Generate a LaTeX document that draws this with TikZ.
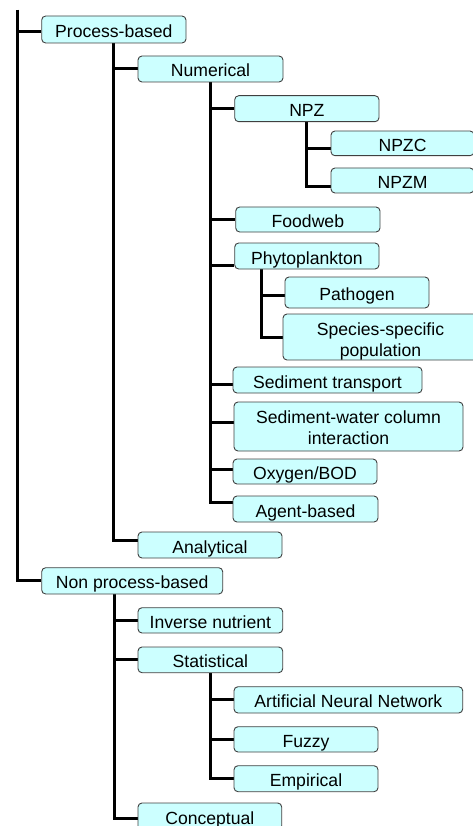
\documentclass[tikz,border=0pt]{standalone}
\usepackage{fontspec}
\setmainfont{Liberation Sans}
\usetikzlibrary{backgrounds}
\definecolor{boxfill}{HTML}{CCFFFF}
\definecolor{boxline}{HTML}{404040}
\tikzset{
  box/.style={draw=boxline, fill=boxfill, rounded corners=4pt, line width=0.9pt,
    inner sep=0pt, font=\fontsize{17.6}{21}\selectfont, text height=16pt, text depth=0pt},
  twoline/.style={align=center},
  conn/.style={line width=3pt, draw=black}
}
\begin{document}
\begin{tikzpicture}[x=1pt,y=-1pt]
\useasboundingbox (0,0) rectangle (473,826);
\node[box, minimum width=144.3pt, minimum height=27pt] (proc) at (113.85,29.5) {Process-based};
\node[box, minimum width=145pt, minimum height=26pt] (num) at (210.5,69) {Numerical};
\node[box, minimum width=144.3pt, minimum height=26pt] (npz) at (306.85,108.7) {NPZ};
\node[box, minimum width=143pt, minimum height=24.7pt] (npzc) at (402.5,143.35) {NPZC};
\node[box, minimum width=143pt, minimum height=25pt] (npzm) at (402.5,180.5) {NPZM};
\node[box, minimum width=144.3pt, minimum height=25pt] (food) at (307.85,219.5) {Foodweb};
\node[box, minimum width=144.3pt, minimum height=26pt] (phyto) at (306.85,256) {Phytoplankton};
\node[box, minimum width=144pt, minimum height=31pt] (path) at (357,292.5) {Pathogen};
\node[box, twoline, text height=38pt, text depth=0pt, minimum width=195pt, minimum height=46pt] (spec) at (380.5,337) {Species-specific\\population};
\node[box, minimum width=189pt, minimum height=26pt] (sedt) at (327.5,380) {Sediment transport};
\node[box, twoline, text height=35pt, text depth=0pt, minimum width=229pt, minimum height=49pt] (swc) at (348.5,426.5) {Sediment-water column\\interaction};
\node[box, minimum width=144pt, minimum height=25pt] (oxy) at (305,471.5) {Oxygen/BOD};
\node[box, minimum width=145pt, minimum height=26pt] (agent) at (305.5,509) {Agent-based};
\node[box, minimum width=144pt, minimum height=26pt] (anal) at (210,545) {Analytical};
\node[box, minimum width=181pt, minimum height=26.3pt] (non) at (132.2,580.85) {Non process-based};
\node[box, minimum width=144.7pt, minimum height=25.3pt] (inv) at (210.35,620.35) {Inverse nutrient};
\node[box, minimum width=144.7pt, minimum height=25.7pt] (stat) at (210.35,659.85) {Statistical};
\node[box, minimum width=228.7pt, minimum height=26.3pt] (ann) at (348.35,699.85) {Artificial Neural Network};
\node[box, minimum width=144pt, minimum height=25.3pt] (fuzzy) at (306,739.35) {Fuzzy};
\node[box, minimum width=144pt, minimum height=26pt] (emp) at (306,778.7) {Empirical};
\node[box, minimum width=143.7pt, minimum height=27pt] (conc) at (209.85,816.5) {Conceptual};
\coordinate (root) at (17.3,10);
\begin{scope}[on background layer]
  \draw[conn] (root) |- ([yshift=-2.5pt]proc.west);
  \draw[conn] (root) |- (non.west);
  \draw[conn] (proc.south) |- (num.west);
  \draw[conn] (proc.south) |- ([yshift=5pt]anal.west);
  \draw[conn] (num.south) |- (npz.west);
  \draw[conn] (num.south) |- (food.west);
  \draw[conn] (num.south) |- ([yshift=-9pt]phyto.west);
  \draw[conn] (num.south) |- ([yshift=-4pt]sedt.west);
  \draw[conn] (num.south) |- ([yshift=4.5pt]swc.west);
  \draw[conn] (num.south) |- ([yshift=2.5pt]oxy.west);
  \draw[conn] (num.south) |- ([yshift=7pt]agent.west);
  \draw[conn] (npz.south) |- ([yshift=-4.7pt]npzc.west);
  \draw[conn] (npz.south) |- ([yshift=-6.5pt]npzm.west);
  \draw[conn] ([xshift=-45.85pt]phyto.south) |- ([yshift=-2.5pt]path.west);
  \draw[conn] ([xshift=-45.85pt]phyto.south) |- (spec.west);
  \draw[conn] ([xshift=-18.2pt]non.south) |- (inv.west);
  \draw[conn] ([xshift=-18.2pt]non.south) |- (stat.west);
  \draw[conn] ([xshift=-18.2pt]non.south) |- ([yshift=-1.5pt]conc.west);
  \draw[conn] (stat.south) |- (ann.west);
  \draw[conn] (stat.south) |- (fuzzy.west);
  \draw[conn] (stat.south) |- (emp.west);
\end{scope}
\end{tikzpicture}
\end{document}
